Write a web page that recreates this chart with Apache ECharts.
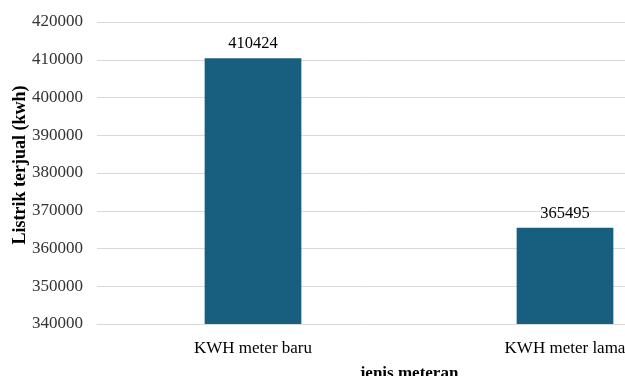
<!DOCTYPE html>
<html>
<head>
<meta charset="utf-8">
<script src="https://cdn.jsdelivr.net/npm/echarts@6/dist/echarts.min.js"></script>
<style>
  html, body { margin: 0; padding: 0; background: #fff; }
  #chart { width: 625px; height: 376px; }
</style>
</head>
<body>
<div id="chart"></div>
<script>
// Electricity sold per meter type
const categories = ['KWH meter baru', 'KWH meter lama'];
const soldKwh = [410424, 365495];
const yMin = 340000;
const yMax = 420000;
const yStep = 10000;

const serif = '"Liberation Serif", "Times New Roman", serif';
const chart = echarts.init(document.getElementById('chart'));
chart.setOption({
  animation: false,
  grid: {
    left: 97, top: 22, width: 624, height: 302,
    containLabel: false,
    outerBoundsMode: 'none'
  },
  xAxis: {
    type: 'category',
    data: categories,
    name: 'jenis meteran',
    nameLocation: 'middle',
    nameGap: 41,
    nameMoveOverlap: false,
    nameTextStyle: { fontFamily: serif, fontSize: 17, fontWeight: 'bold', color: '#000' },
    axisLine: { lineStyle: { color: '#d9d9d9' } },
    axisTick: { show: false },
    axisLabel: { fontFamily: serif, fontSize: 17, color: '#000', margin: 16 }
  },
  yAxis: {
    type: 'value',
    min: yMin,
    max: yMax,
    interval: yStep,
    name: 'Listrik terjual (kwh)',
    nameLocation: 'middle',
    nameGap: 68,
    nameMoveOverlap: false,
    nameTextStyle: {
      fontFamily: serif, fontSize: 18, fontWeight: 'bold', color: '#000',
      padding: [0, 0, 0, 16]
    },
    axisLine: { show: false },
    axisTick: { show: false },
    axisLabel: {
      fontFamily: serif, fontSize: 17, color: '#333', margin: 14,
      formatter: v => String(v)
    },
    splitLine: { lineStyle: { color: '#d9d9d9' } }
  },
  series: [{
    type: 'bar',
    data: soldKwh,
    barWidth: '31%',
    itemStyle: { color: '#175e7f' },
    label: {
      show: true,
      position: 'top',
      distance: 6,
      fontFamily: serif,
      fontSize: 16.5,
      color: '#000'
    }
  }]
});
</script>
</body>
</html>
